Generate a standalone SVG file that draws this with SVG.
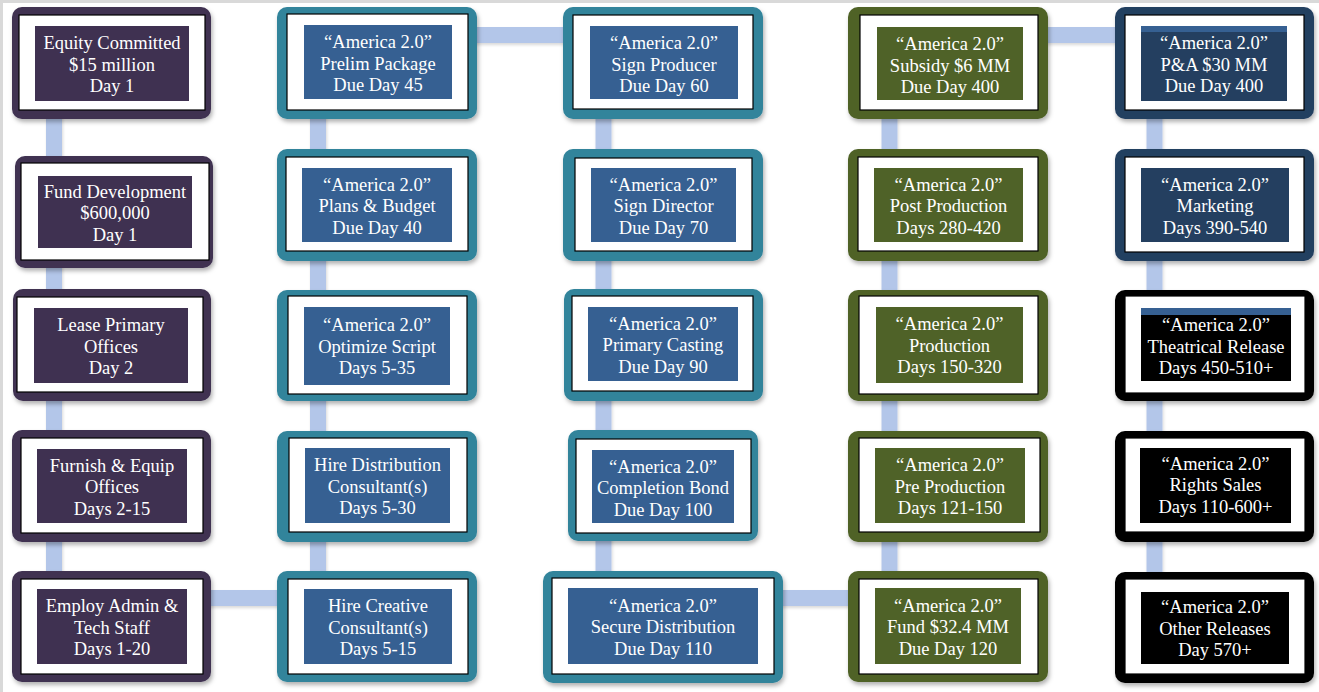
<svg xmlns="http://www.w3.org/2000/svg" width="1319" height="692" viewBox="0 0 1319 692">
<style>
.o{stroke:none;filter:url(#sh)}
.w{fill:#fff;stroke:#000;stroke-width:1.2}
.t{font-family:"Liberation Serif","Times New Roman",serif;font-size:18.5px;fill:#fff;text-anchor:middle}
.pu{fill:#3F3151}.te{fill:#31849B}.ol{fill:#4F6228}.nv{fill:#243F60}.bk{fill:#000}
.bl{fill:#366092}
.conn{fill:none;stroke:#B3C6E9;stroke-width:16;stroke-linejoin:miter}
</style>
<defs>
<filter id="sh" x="-10%" y="-10%" width="125%" height="130%">
<feDropShadow dx="1.5" dy="3" stdDeviation="2" flood-color="#000" flood-opacity="0.3"/>
</filter>
<filter id="csh" x="-5%" y="-5%" width="110%" height="110%">
<feDropShadow dx="1" dy="2" stdDeviation="1.5" flood-color="#000" flood-opacity="0.15"/>
</filter>
</defs>
<rect x="0" y="0" width="1319" height="692" fill="#fff"/>
<rect x="0" y="0" width="1319" height="3" fill="#D9D9D9"/>
<rect x="0" y="0" width="3" height="692" fill="#D9D9D9"/>
<g id="connectors">
<path class="conn" filter="url(#csh)" d="M54,60 V598 H318 V35 H603.5 V598 H889.5 V35 H1154.5 V630"/>
</g>
<!-- Column 1 -->
<g id="n1_1"><rect class="o pu" x="12" y="7" width="199" height="112" rx="10"/><rect class="w" x="19" y="15" width="186" height="95"/><rect class="pu" x="35" y="26" width="154" height="75"/>
<text class="t" x="112" y="49">Equity Committed</text><text class="t" x="112" y="70.5">$15 million</text><text class="t" x="112" y="92">Day 1</text></g>
<g id="n1_2"><rect class="o pu" x="15" y="156" width="198" height="112" rx="10"/><rect class="w" x="21" y="163" width="188" height="97"/><rect class="pu" x="38" y="176" width="154" height="72"/>
<text class="t" x="115" y="197.5">Fund Development</text><text class="t" x="115" y="219">$600,000</text><text class="t" x="115" y="240.5">Day 1</text></g>
<g id="n1_3"><rect class="o pu" x="13" y="289" width="198" height="112" rx="10"/><rect class="w" x="17" y="297" width="186" height="95"/><rect class="pu" x="34" y="308" width="154" height="75"/>
<text class="t" x="111" y="331">Lease Primary</text><text class="t" x="111" y="352.5">Offices</text><text class="t" x="111" y="374">Day 2</text></g>
<g id="n1_4"><rect class="o pu" x="12" y="430" width="199" height="112" rx="10"/><rect class="w" x="21" y="438" width="182" height="95"/><rect class="pu" x="37" y="449" width="150" height="74"/>
<text class="t" x="112" y="471.5">Furnish &amp; Equip</text><text class="t" x="112" y="493">Offices</text><text class="t" x="112" y="514.5">Days 2-15</text></g>
<g id="n1_5"><rect class="o pu" x="12" y="571" width="199" height="111" rx="10"/><rect class="w" x="21" y="579" width="182" height="95"/><rect class="pu" x="37" y="589" width="150" height="75"/>
<text class="t" x="112" y="612">Employ Admin &amp;</text><text class="t" x="112" y="633.5">Tech Staff</text><text class="t" x="112" y="655">Days 1-20</text></g>
<!-- Column 2 -->
<g id="n2_1"><rect class="o te" x="277" y="7" width="200" height="112" rx="10"/><rect class="w" x="287" y="14" width="181" height="96"/><rect class="bl" x="304" y="25" width="148" height="74"/>
<text class="t" x="378" y="48">“America 2.0”</text><text class="t" x="378" y="69.5">Prelim Package</text><text class="t" x="378" y="91">Due Day 45</text></g>
<g id="n2_2"><rect class="o te" x="277" y="149" width="200" height="112" rx="10"/><rect class="w" x="286" y="157" width="182" height="94"/><rect class="bl" x="302" y="168" width="150" height="74"/>
<text class="t" x="377" y="190.5">“America 2.0”</text><text class="t" x="377" y="212">Plans &amp; Budget</text><text class="t" x="377" y="233.5">Due Day 40</text></g>
<g id="n2_3"><rect class="o te" x="277" y="290" width="200" height="111" rx="10"/><rect class="w" x="288" y="296" width="179" height="98"/><rect class="bl" x="304" y="307" width="146" height="78"/>
<text class="t" x="377" y="331">“America 2.0”</text><text class="t" x="377" y="352.5">Optimize Script</text><text class="t" x="377" y="374">Days 5-35</text></g>
<g id="n2_4"><rect class="o te" x="277" y="431" width="200" height="111" rx="10"/><rect class="w" x="289" y="438" width="178" height="94"/><rect class="bl" x="305" y="448" width="145" height="75"/>
<text class="t" x="377.5" y="471">Hire Distribution</text><text class="t" x="377.5" y="492.5">Consultant(s)</text><text class="t" x="377.5" y="514">Days 5-30</text></g>
<g id="n2_5"><rect class="o te" x="277" y="571" width="200" height="111" rx="10"/><rect class="w" x="288" y="579" width="180" height="95"/><rect class="bl" x="304" y="589" width="148" height="75"/>
<text class="t" x="378" y="612">Hire Creative</text><text class="t" x="378" y="633.5">Consultant(s)</text><text class="t" x="378" y="655">Days 5-15</text></g>
<!-- Column 3 -->
<g id="n3_1"><rect class="o te" x="563" y="7" width="200" height="112" rx="10"/><rect class="w" x="573" y="15" width="180" height="94"/><rect class="bl" x="590" y="26" width="148" height="73"/>
<text class="t" x="664" y="49">“America 2.0”</text><text class="t" x="664" y="70.5">Sign Producer</text><text class="t" x="664" y="92">Due Day 60</text></g>
<g id="n3_2"><rect class="o te" x="563" y="149" width="200" height="112" rx="10"/><rect class="w" x="575" y="158" width="177" height="93"/><rect class="bl" x="591" y="168" width="145" height="74"/>
<text class="t" x="663.5" y="190.5">“America 2.0”</text><text class="t" x="663.5" y="212">Sign Director</text><text class="t" x="663.5" y="233.5">Due Day 70</text></g>
<g id="n3_3"><rect class="o te" x="564" y="289" width="199" height="112" rx="10"/><rect class="w" x="572" y="296" width="181" height="95"/><rect class="bl" x="588" y="307" width="150" height="74"/>
<text class="t" x="663" y="329.5">“America 2.0”</text><text class="t" x="663" y="351">Primary Casting</text><text class="t" x="663" y="372.5">Due Day 90</text></g>
<g id="n3_4"><rect class="o te" x="568" y="430" width="190" height="111" rx="10"/><rect class="w" x="576" y="439" width="175" height="94"/><rect class="bl" x="592" y="450" width="142" height="73"/>
<text class="t" x="663" y="472.5">“America 2.0”</text><text class="t" x="663" y="494">Completion Bond</text><text class="t" x="663" y="515.5">Due Day 100</text></g>
<g id="n3_5"><rect class="o te" x="543" y="571" width="240" height="112" rx="10"/><rect class="w" x="552" y="578" width="222" height="96"/><rect class="bl" x="568" y="588" width="190" height="76"/>
<text class="t" x="663" y="611.5">“America 2.0”</text><text class="t" x="663" y="633">Secure Distribution</text><text class="t" x="663" y="654.5">Due Day 110</text></g>
<!-- Column 4 -->
<g id="n4_1"><rect class="o ol" x="848" y="7" width="200" height="112" rx="10"/><rect class="w" x="860" y="15" width="178" height="95"/><rect class="ol" x="877" y="27" width="146" height="73"/>
<text class="t" x="950" y="50">“America 2.0”</text><text class="t" x="950" y="71.5">Subsidy $6 MM</text><text class="t" x="950" y="93">Due Day 400</text></g>
<g id="n4_2"><rect class="o ol" x="848" y="149" width="200" height="112" rx="10"/><rect class="w" x="858" y="157" width="180" height="94"/><rect class="ol" x="874" y="168" width="149" height="74"/>
<text class="t" x="948.5" y="190.5">“America 2.0”</text><text class="t" x="948.5" y="212">Post Production</text><text class="t" x="948.5" y="233.5">Days 280-420</text></g>
<g id="n4_3"><rect class="o ol" x="848" y="290" width="200" height="111" rx="10"/><rect class="w" x="859" y="296" width="179" height="98"/><rect class="ol" x="876" y="307" width="147" height="76"/>
<text class="t" x="949.5" y="330">“America 2.0”</text><text class="t" x="949.5" y="351.5">Production</text><text class="t" x="949.5" y="373">Days 150-320</text></g>
<g id="n4_4"><rect class="o ol" x="848" y="431" width="200" height="111" rx="10"/><rect class="w" x="859" y="438" width="181" height="94"/><rect class="ol" x="875" y="448" width="150" height="75"/>
<text class="t" x="950" y="471">“America 2.0”</text><text class="t" x="950" y="492.5">Pre Production</text><text class="t" x="950" y="514">Days 121-150</text></g>
<g id="n4_5"><rect class="o ol" x="848" y="571" width="200" height="111" rx="10"/><rect class="w" x="859" y="579" width="179" height="95"/><rect class="ol" x="875" y="588" width="146" height="76"/>
<text class="t" x="948" y="611.5">“America 2.0”</text><text class="t" x="948" y="633">Fund $32.4 MM</text><text class="t" x="948" y="654.5">Due Day 120</text></g>
<!-- Column 5 -->
<g id="n5_1"><rect class="o nv" x="1115" y="7" width="199" height="112" rx="10"/><rect class="w" x="1125" y="15" width="179" height="95"/><rect class="nv" x="1141" y="26" width="146" height="75"/><rect class="bl" x="1141" y="26" width="146" height="6"/>
<text class="t" x="1214" y="49">“America 2.0”</text><text class="t" x="1214" y="70.5">P&amp;A $30 MM</text><text class="t" x="1214" y="92">Due Day 400</text></g>
<g id="n5_2"><rect class="o nv" x="1115" y="149" width="199" height="112" rx="10"/><rect class="w" x="1125" y="157" width="179" height="95"/><rect class="nv" x="1141" y="168" width="148" height="74"/>
<text class="t" x="1215" y="190.5">“America 2.0”</text><text class="t" x="1215" y="212">Marketing</text><text class="t" x="1215" y="233.5">Days 390-540</text></g>
<g id="n5_3"><rect class="o bk" x="1115" y="290" width="199" height="111" rx="10"/><rect class="w" x="1125" y="296" width="180" height="97"/><rect class="bk" x="1141" y="308" width="150" height="73"/><rect class="bl" x="1141" y="308" width="150" height="7"/>
<text class="t" x="1216" y="331">“America 2.0”</text><text class="t" x="1216" y="352.5">Theatrical Release</text><text class="t" x="1216" y="374">Days 450-510+</text></g>
<g id="n5_4"><rect class="o bk" x="1115" y="431" width="199" height="111" rx="10"/><rect class="w" x="1125" y="438" width="180" height="94"/><rect class="bk" x="1140" y="448" width="151" height="75"/>
<text class="t" x="1215.5" y="469.5">“America 2.0”</text><text class="t" x="1215.5" y="491">Rights Sales</text><text class="t" x="1215.5" y="512.5">Days 110-600+</text></g>
<g id="n5_5"><rect class="o bk" x="1115" y="572" width="199" height="111" rx="10"/><rect class="w" x="1125" y="579" width="180" height="95"/><rect class="bk" x="1141" y="592" width="148" height="72"/>
<text class="t" x="1215" y="613">“America 2.0”</text><text class="t" x="1215" y="634.5">Other Releases</text><text class="t" x="1215" y="656">Day 570+</text></g>
</svg>
